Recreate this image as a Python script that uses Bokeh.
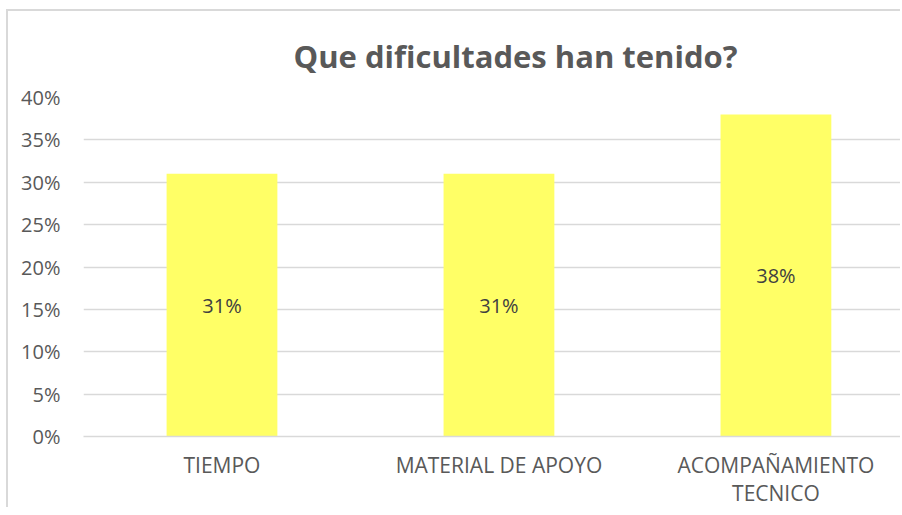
from bokeh.plotting import figure
from bokeh.models import LabelSet, NumeralTickFormatter, FixedTicker, Range1d, ColumnDataSource, Title
from bokeh.core.properties import value
from bokeh.embed import file_html
from bokeh.resources import INLINE

# ---- data ----
categories = ["TIEMPO", "MATERIAL DE APOYO", "ACOMPAÑAMIENTO\nTECNICO"]
values = [0.31, 0.31, 0.38]
value_labels = ["31%", "31%", "38%"]
y_ticks = [0.0, 0.05, 0.10, 0.15, 0.20, 0.25, 0.30, 0.35, 0.40]
title_text = "Que dificultades han tenido?"

FONT = "Open Sans"
GREY = "#595959"

xs = list(range(len(categories)))
src = ColumnDataSource(dict(
    x=xs,
    top=values,
    mid=[v / 2 for v in values],
    lab=value_labels,
))

p = figure(width=894, height=498, output_backend="svg", toolbar_location=None,
           x_range=Range1d(-0.5, 2.457), y_range=Range1d(0, 0.40),
           min_border_left=75, min_border_right=0, min_border_top=85, min_border_bottom=72,
           styles={"margin-left": "6px", "margin-top": "9px",
                   "border-left": "2px solid #d9d9d9", "border-top": "2px solid #d9d9d9"})
p.outline_line_color = None
p.background_fill_color = "white"
p.border_fill_color = "white"

p.vbar(x="x", top="top", width=0.40, bottom=0, source=src,
       fill_color="#FFFF66", line_color=None)

p.add_layout(LabelSet(x="x", y="mid", text="lab", source=src,
                      text_align="center", text_baseline="middle",
                      text_font=value(FONT), text_font_size="20px", text_color="#404040"))

t = Title(text=title_text, align="left", offset=210, text_font=FONT,
          text_font_size="31px", text_font_style="bold", text_color=GREY, standoff=42)
p.add_layout(t, "above")

# y axis
p.yaxis.ticker = FixedTicker(ticks=y_ticks)
p.yaxis.formatter = NumeralTickFormatter(format="0%")
p.yaxis.axis_line_color = None
p.yaxis.major_tick_line_color = None
p.yaxis.major_tick_out = 0
p.yaxis.major_tick_in = 0
p.yaxis.minor_tick_line_color = None
p.yaxis.major_label_text_font = FONT
p.yaxis.major_label_text_font_size = "20px"
p.yaxis.major_label_text_color = GREY
p.yaxis.major_label_standoff = 23

p.ygrid.ticker = FixedTicker(ticks=y_ticks)
p.ygrid.grid_line_color = "#d9d9d9"
p.ygrid.grid_line_width = 1.5
p.xgrid.grid_line_color = None

# x axis
p.xaxis.ticker = FixedTicker(ticks=xs)
p.xaxis.major_label_overrides = {i: c for i, c in zip(xs, categories)}
p.xaxis.axis_line_color = "#d9d9d9"
p.xaxis.axis_line_width = 1.5
p.xaxis.major_tick_line_color = None
p.xaxis.major_tick_out = 0
p.xaxis.major_tick_in = 0
p.xaxis.minor_tick_line_color = None
p.xaxis.major_label_text_font = FONT
p.xaxis.major_label_text_font_size = "21px"
p.xaxis.major_label_text_color = GREY
p.xaxis.major_label_text_line_height = 1.0
p.xaxis.major_label_standoff = 14

open("out.html", "w").write(file_html(p, INLINE))
